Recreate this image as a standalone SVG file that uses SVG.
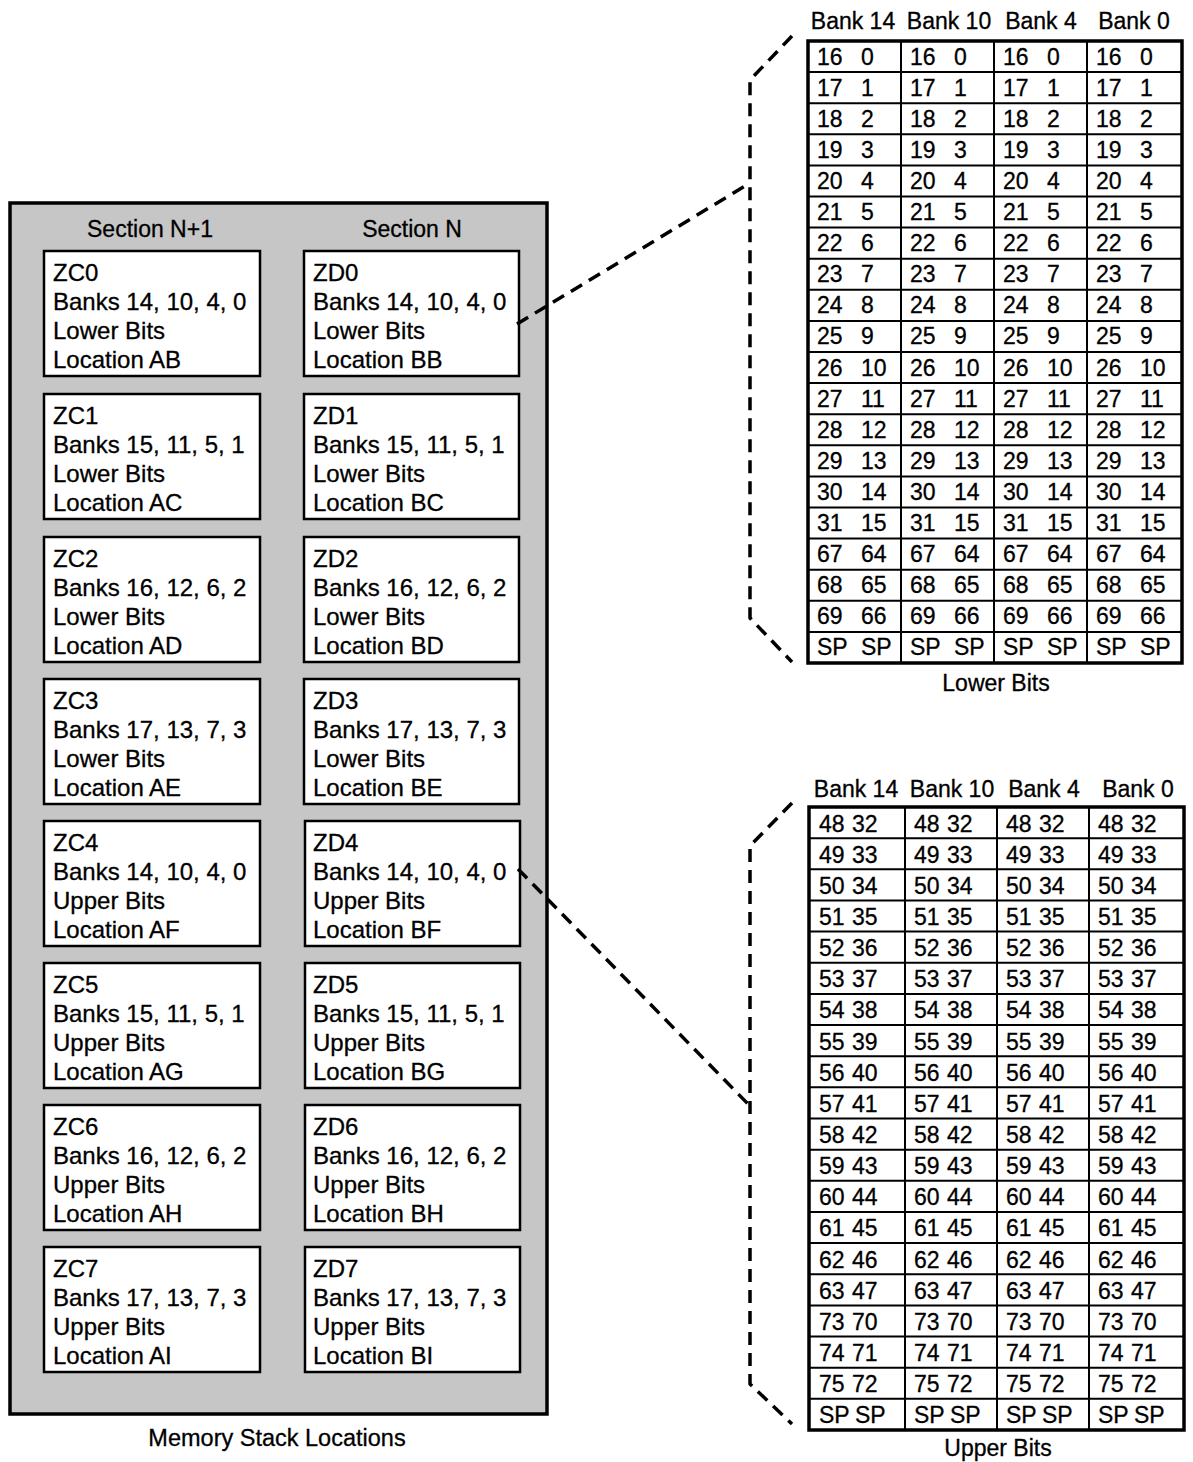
<svg xmlns="http://www.w3.org/2000/svg" width="1193" height="1462" viewBox="0 0 1193 1462">
<defs>
<style>
text{font-family:"Liberation Sans",Arial,Helvetica,sans-serif;fill:#000;stroke:#000;stroke-width:0.3}
.b{font-size:24px}
.t{font-size:23px}
.h{font-size:23px;text-anchor:middle}
.c{font-size:23.5px;text-anchor:middle}
.box{fill:#fff;stroke:#000;stroke-width:2.5}
.outer{fill:#fff;stroke:#000;stroke-width:3.5}
.grid{fill:none;stroke:#000;stroke-width:2}
.dash{fill:none;stroke:#000;stroke-width:3.5;stroke-dasharray:13 8;stroke-linejoin:round}
</style>
</defs>
<rect width="1193" height="1462" fill="#fff"/>

<g id="memory-stack">
<rect x="10" y="203" width="537" height="1211" fill="#c6c6c6" stroke="#000" stroke-width="3.5"/>
<text class="h" x="150" y="237">Section N+1</text>
<text class="h" x="412" y="237">Section N</text>

<g id="ZC0"><rect class="box" x="44" y="251" width="216" height="125"/>
<text class="b" x="53" y="281">ZC0</text><text class="b" x="53" y="310">Banks 14, 10, 4, 0</text><text class="b" x="53" y="339">Lower Bits</text><text class="b" x="53" y="368">Location AB</text></g>
<g id="ZD0"><rect class="box" x="304" y="251" width="215" height="125"/>
<text class="b" x="313" y="281">ZD0</text><text class="b" x="313" y="310">Banks 14, 10, 4, 0</text><text class="b" x="313" y="339">Lower Bits</text><text class="b" x="313" y="368">Location BB</text></g>

<g id="ZC1"><rect class="box" x="44" y="394" width="216" height="125"/>
<text class="b" x="53" y="424">ZC1</text><text class="b" x="53" y="453">Banks 15, 11, 5, 1</text><text class="b" x="53" y="482">Lower Bits</text><text class="b" x="53" y="511">Location AC</text></g>
<g id="ZD1"><rect class="box" x="304" y="394" width="215" height="125"/>
<text class="b" x="313" y="424">ZD1</text><text class="b" x="313" y="453">Banks 15, 11, 5, 1</text><text class="b" x="313" y="482">Lower Bits</text><text class="b" x="313" y="511">Location BC</text></g>

<g id="ZC2"><rect class="box" x="44" y="537" width="216" height="125"/>
<text class="b" x="53" y="567">ZC2</text><text class="b" x="53" y="596">Banks 16, 12, 6, 2</text><text class="b" x="53" y="625">Lower Bits</text><text class="b" x="53" y="654">Location AD</text></g>
<g id="ZD2"><rect class="box" x="304" y="537" width="215" height="125"/>
<text class="b" x="313" y="567">ZD2</text><text class="b" x="313" y="596">Banks 16, 12, 6, 2</text><text class="b" x="313" y="625">Lower Bits</text><text class="b" x="313" y="654">Location BD</text></g>

<g id="ZC3"><rect class="box" x="44" y="679" width="216" height="125"/>
<text class="b" x="53" y="709">ZC3</text><text class="b" x="53" y="738">Banks 17, 13, 7, 3</text><text class="b" x="53" y="767">Lower Bits</text><text class="b" x="53" y="796">Location AE</text></g>
<g id="ZD3"><rect class="box" x="304" y="679" width="215" height="125"/>
<text class="b" x="313" y="709">ZD3</text><text class="b" x="313" y="738">Banks 17, 13, 7, 3</text><text class="b" x="313" y="767">Lower Bits</text><text class="b" x="313" y="796">Location BE</text></g>

<g id="ZC4"><rect class="box" x="44" y="821" width="216" height="125"/>
<text class="b" x="53" y="851">ZC4</text><text class="b" x="53" y="880">Banks 14, 10, 4, 0</text><text class="b" x="53" y="909">Upper Bits</text><text class="b" x="53" y="938">Location AF</text></g>
<g id="ZD4"><rect class="box" x="305" y="821" width="215" height="125"/>
<text class="b" x="313" y="851">ZD4</text><text class="b" x="313" y="880">Banks 14, 10, 4, 0</text><text class="b" x="313" y="909">Upper Bits</text><text class="b" x="313" y="938">Location BF</text></g>

<g id="ZC5"><rect class="box" x="44" y="963" width="216" height="125"/>
<text class="b" x="53" y="993">ZC5</text><text class="b" x="53" y="1022">Banks 15, 11, 5, 1</text><text class="b" x="53" y="1051">Upper Bits</text><text class="b" x="53" y="1080">Location AG</text></g>
<g id="ZD5"><rect class="box" x="305" y="963" width="215" height="125"/>
<text class="b" x="313" y="993">ZD5</text><text class="b" x="313" y="1022">Banks 15, 11, 5, 1</text><text class="b" x="313" y="1051">Upper Bits</text><text class="b" x="313" y="1080">Location BG</text></g>

<g id="ZC6"><rect class="box" x="44" y="1105" width="216" height="125"/>
<text class="b" x="53" y="1135">ZC6</text><text class="b" x="53" y="1164">Banks 16, 12, 6, 2</text><text class="b" x="53" y="1193">Upper Bits</text><text class="b" x="53" y="1222">Location AH</text></g>
<g id="ZD6"><rect class="box" x="305" y="1105" width="215" height="125"/>
<text class="b" x="313" y="1135">ZD6</text><text class="b" x="313" y="1164">Banks 16, 12, 6, 2</text><text class="b" x="313" y="1193">Upper Bits</text><text class="b" x="313" y="1222">Location BH</text></g>

<g id="ZC7"><rect class="box" x="44" y="1247" width="216" height="125"/>
<text class="b" x="53" y="1277">ZC7</text><text class="b" x="53" y="1306">Banks 17, 13, 7, 3</text><text class="b" x="53" y="1335">Upper Bits</text><text class="b" x="53" y="1364">Location AI</text></g>
<g id="ZD7"><rect class="box" x="305" y="1247" width="215" height="125"/>
<text class="b" x="313" y="1277">ZD7</text><text class="b" x="313" y="1306">Banks 17, 13, 7, 3</text><text class="b" x="313" y="1335">Upper Bits</text><text class="b" x="313" y="1364">Location BI</text></g>
</g>
<text id="memory-caption" class="c" x="277" y="1446">Memory Stack Locations</text>

<g id="lower-bits-table">
<text class="h" x="853" y="29">Bank 14</text><text class="h" x="949" y="29">Bank 10</text><text class="h" x="1041" y="29">Bank 4</text><text class="h" x="1134" y="29">Bank 0</text>
<rect class="outer" x="808" y="41" width="374" height="622"/>
<path class="grid" d="M901,41V663M994,41V663M1087,41V663M808,72.1H1182M808,103.2H1182M808,134.3H1182M808,165.4H1182M808,196.5H1182M808,227.6H1182M808,258.7H1182M808,289.8H1182M808,320.9H1182M808,352H1182M808,383.1H1182M808,414.2H1182M808,445.3H1182M808,476.4H1182M808,507.5H1182M808,538.6H1182M808,569.7H1182M808,600.8H1182M808,631.9H1182"/>
<g class="t">
<text y="64.5"><tspan x="817">16</tspan><tspan x="861">0</tspan><tspan x="910">16</tspan><tspan x="954">0</tspan><tspan x="1003">16</tspan><tspan x="1047">0</tspan><tspan x="1096">16</tspan><tspan x="1140">0</tspan></text>
<text y="95.6"><tspan x="817">17</tspan><tspan x="861">1</tspan><tspan x="910">17</tspan><tspan x="954">1</tspan><tspan x="1003">17</tspan><tspan x="1047">1</tspan><tspan x="1096">17</tspan><tspan x="1140">1</tspan></text>
<text y="126.7"><tspan x="817">18</tspan><tspan x="861">2</tspan><tspan x="910">18</tspan><tspan x="954">2</tspan><tspan x="1003">18</tspan><tspan x="1047">2</tspan><tspan x="1096">18</tspan><tspan x="1140">2</tspan></text>
<text y="157.8"><tspan x="817">19</tspan><tspan x="861">3</tspan><tspan x="910">19</tspan><tspan x="954">3</tspan><tspan x="1003">19</tspan><tspan x="1047">3</tspan><tspan x="1096">19</tspan><tspan x="1140">3</tspan></text>
<text y="188.9"><tspan x="817">20</tspan><tspan x="861">4</tspan><tspan x="910">20</tspan><tspan x="954">4</tspan><tspan x="1003">20</tspan><tspan x="1047">4</tspan><tspan x="1096">20</tspan><tspan x="1140">4</tspan></text>
<text y="220"><tspan x="817">21</tspan><tspan x="861">5</tspan><tspan x="910">21</tspan><tspan x="954">5</tspan><tspan x="1003">21</tspan><tspan x="1047">5</tspan><tspan x="1096">21</tspan><tspan x="1140">5</tspan></text>
<text y="251.1"><tspan x="817">22</tspan><tspan x="861">6</tspan><tspan x="910">22</tspan><tspan x="954">6</tspan><tspan x="1003">22</tspan><tspan x="1047">6</tspan><tspan x="1096">22</tspan><tspan x="1140">6</tspan></text>
<text y="282.2"><tspan x="817">23</tspan><tspan x="861">7</tspan><tspan x="910">23</tspan><tspan x="954">7</tspan><tspan x="1003">23</tspan><tspan x="1047">7</tspan><tspan x="1096">23</tspan><tspan x="1140">7</tspan></text>
<text y="313.3"><tspan x="817">24</tspan><tspan x="861">8</tspan><tspan x="910">24</tspan><tspan x="954">8</tspan><tspan x="1003">24</tspan><tspan x="1047">8</tspan><tspan x="1096">24</tspan><tspan x="1140">8</tspan></text>
<text y="344.4"><tspan x="817">25</tspan><tspan x="861">9</tspan><tspan x="910">25</tspan><tspan x="954">9</tspan><tspan x="1003">25</tspan><tspan x="1047">9</tspan><tspan x="1096">25</tspan><tspan x="1140">9</tspan></text>
<text y="375.5"><tspan x="817">26</tspan><tspan x="861">10</tspan><tspan x="910">26</tspan><tspan x="954">10</tspan><tspan x="1003">26</tspan><tspan x="1047">10</tspan><tspan x="1096">26</tspan><tspan x="1140">10</tspan></text>
<text y="406.6"><tspan x="817">27</tspan><tspan x="861">11</tspan><tspan x="910">27</tspan><tspan x="954">11</tspan><tspan x="1003">27</tspan><tspan x="1047">11</tspan><tspan x="1096">27</tspan><tspan x="1140">11</tspan></text>
<text y="437.7"><tspan x="817">28</tspan><tspan x="861">12</tspan><tspan x="910">28</tspan><tspan x="954">12</tspan><tspan x="1003">28</tspan><tspan x="1047">12</tspan><tspan x="1096">28</tspan><tspan x="1140">12</tspan></text>
<text y="468.8"><tspan x="817">29</tspan><tspan x="861">13</tspan><tspan x="910">29</tspan><tspan x="954">13</tspan><tspan x="1003">29</tspan><tspan x="1047">13</tspan><tspan x="1096">29</tspan><tspan x="1140">13</tspan></text>
<text y="499.9"><tspan x="817">30</tspan><tspan x="861">14</tspan><tspan x="910">30</tspan><tspan x="954">14</tspan><tspan x="1003">30</tspan><tspan x="1047">14</tspan><tspan x="1096">30</tspan><tspan x="1140">14</tspan></text>
<text y="531"><tspan x="817">31</tspan><tspan x="861">15</tspan><tspan x="910">31</tspan><tspan x="954">15</tspan><tspan x="1003">31</tspan><tspan x="1047">15</tspan><tspan x="1096">31</tspan><tspan x="1140">15</tspan></text>
<text y="562.1"><tspan x="817">67</tspan><tspan x="861">64</tspan><tspan x="910">67</tspan><tspan x="954">64</tspan><tspan x="1003">67</tspan><tspan x="1047">64</tspan><tspan x="1096">67</tspan><tspan x="1140">64</tspan></text>
<text y="593.2"><tspan x="817">68</tspan><tspan x="861">65</tspan><tspan x="910">68</tspan><tspan x="954">65</tspan><tspan x="1003">68</tspan><tspan x="1047">65</tspan><tspan x="1096">68</tspan><tspan x="1140">65</tspan></text>
<text y="624.3"><tspan x="817">69</tspan><tspan x="861">66</tspan><tspan x="910">69</tspan><tspan x="954">66</tspan><tspan x="1003">69</tspan><tspan x="1047">66</tspan><tspan x="1096">69</tspan><tspan x="1140">66</tspan></text>
<text y="655.4"><tspan x="817">SP</tspan><tspan x="861">SP</tspan><tspan x="910">SP</tspan><tspan x="954">SP</tspan><tspan x="1003">SP</tspan><tspan x="1047">SP</tspan><tspan x="1096">SP</tspan><tspan x="1140">SP</tspan></text>
</g>
<text class="h" x="996" y="691">Lower Bits</text>
</g>

<g id="upper-bits-table">
<text class="h" x="856" y="797">Bank 14</text><text class="h" x="952" y="797">Bank 10</text><text class="h" x="1044" y="797">Bank 4</text><text class="h" x="1138" y="797">Bank 0</text>
<rect class="outer" x="809" y="807" width="375" height="623"/>
<path class="grid" d="M905,807V1430M997,807V1430M1089,807V1430M809,838.15H1184M809,869.3H1184M809,900.45H1184M809,931.6H1184M809,962.75H1184M809,993.9H1184M809,1025.05H1184M809,1056.2H1184M809,1087.35H1184M809,1118.5H1184M809,1149.65H1184M809,1180.8H1184M809,1211.95H1184M809,1243.1H1184M809,1274.25H1184M809,1305.4H1184M809,1336.55H1184M809,1367.7H1184M809,1398.85H1184"/>
<g class="t">
<text y="831.5"><tspan x="819">48</tspan><tspan x="852">32</tspan><tspan x="914">48</tspan><tspan x="947">32</tspan><tspan x="1006">48</tspan><tspan x="1039">32</tspan><tspan x="1098">48</tspan><tspan x="1131">32</tspan></text>
<text y="862.65"><tspan x="819">49</tspan><tspan x="852">33</tspan><tspan x="914">49</tspan><tspan x="947">33</tspan><tspan x="1006">49</tspan><tspan x="1039">33</tspan><tspan x="1098">49</tspan><tspan x="1131">33</tspan></text>
<text y="893.8"><tspan x="819">50</tspan><tspan x="852">34</tspan><tspan x="914">50</tspan><tspan x="947">34</tspan><tspan x="1006">50</tspan><tspan x="1039">34</tspan><tspan x="1098">50</tspan><tspan x="1131">34</tspan></text>
<text y="924.95"><tspan x="819">51</tspan><tspan x="852">35</tspan><tspan x="914">51</tspan><tspan x="947">35</tspan><tspan x="1006">51</tspan><tspan x="1039">35</tspan><tspan x="1098">51</tspan><tspan x="1131">35</tspan></text>
<text y="956.1"><tspan x="819">52</tspan><tspan x="852">36</tspan><tspan x="914">52</tspan><tspan x="947">36</tspan><tspan x="1006">52</tspan><tspan x="1039">36</tspan><tspan x="1098">52</tspan><tspan x="1131">36</tspan></text>
<text y="987.25"><tspan x="819">53</tspan><tspan x="852">37</tspan><tspan x="914">53</tspan><tspan x="947">37</tspan><tspan x="1006">53</tspan><tspan x="1039">37</tspan><tspan x="1098">53</tspan><tspan x="1131">37</tspan></text>
<text y="1018.4"><tspan x="819">54</tspan><tspan x="852">38</tspan><tspan x="914">54</tspan><tspan x="947">38</tspan><tspan x="1006">54</tspan><tspan x="1039">38</tspan><tspan x="1098">54</tspan><tspan x="1131">38</tspan></text>
<text y="1049.55"><tspan x="819">55</tspan><tspan x="852">39</tspan><tspan x="914">55</tspan><tspan x="947">39</tspan><tspan x="1006">55</tspan><tspan x="1039">39</tspan><tspan x="1098">55</tspan><tspan x="1131">39</tspan></text>
<text y="1080.7"><tspan x="819">56</tspan><tspan x="852">40</tspan><tspan x="914">56</tspan><tspan x="947">40</tspan><tspan x="1006">56</tspan><tspan x="1039">40</tspan><tspan x="1098">56</tspan><tspan x="1131">40</tspan></text>
<text y="1111.85"><tspan x="819">57</tspan><tspan x="852">41</tspan><tspan x="914">57</tspan><tspan x="947">41</tspan><tspan x="1006">57</tspan><tspan x="1039">41</tspan><tspan x="1098">57</tspan><tspan x="1131">41</tspan></text>
<text y="1143"><tspan x="819">58</tspan><tspan x="852">42</tspan><tspan x="914">58</tspan><tspan x="947">42</tspan><tspan x="1006">58</tspan><tspan x="1039">42</tspan><tspan x="1098">58</tspan><tspan x="1131">42</tspan></text>
<text y="1174.15"><tspan x="819">59</tspan><tspan x="852">43</tspan><tspan x="914">59</tspan><tspan x="947">43</tspan><tspan x="1006">59</tspan><tspan x="1039">43</tspan><tspan x="1098">59</tspan><tspan x="1131">43</tspan></text>
<text y="1205.3"><tspan x="819">60</tspan><tspan x="852">44</tspan><tspan x="914">60</tspan><tspan x="947">44</tspan><tspan x="1006">60</tspan><tspan x="1039">44</tspan><tspan x="1098">60</tspan><tspan x="1131">44</tspan></text>
<text y="1236.45"><tspan x="819">61</tspan><tspan x="852">45</tspan><tspan x="914">61</tspan><tspan x="947">45</tspan><tspan x="1006">61</tspan><tspan x="1039">45</tspan><tspan x="1098">61</tspan><tspan x="1131">45</tspan></text>
<text y="1267.6"><tspan x="819">62</tspan><tspan x="852">46</tspan><tspan x="914">62</tspan><tspan x="947">46</tspan><tspan x="1006">62</tspan><tspan x="1039">46</tspan><tspan x="1098">62</tspan><tspan x="1131">46</tspan></text>
<text y="1298.75"><tspan x="819">63</tspan><tspan x="852">47</tspan><tspan x="914">63</tspan><tspan x="947">47</tspan><tspan x="1006">63</tspan><tspan x="1039">47</tspan><tspan x="1098">63</tspan><tspan x="1131">47</tspan></text>
<text y="1329.9"><tspan x="819">73</tspan><tspan x="852">70</tspan><tspan x="914">73</tspan><tspan x="947">70</tspan><tspan x="1006">73</tspan><tspan x="1039">70</tspan><tspan x="1098">73</tspan><tspan x="1131">70</tspan></text>
<text y="1361.05"><tspan x="819">74</tspan><tspan x="852">71</tspan><tspan x="914">74</tspan><tspan x="947">71</tspan><tspan x="1006">74</tspan><tspan x="1039">71</tspan><tspan x="1098">74</tspan><tspan x="1131">71</tspan></text>
<text y="1392.2"><tspan x="819">75</tspan><tspan x="852">72</tspan><tspan x="914">75</tspan><tspan x="947">72</tspan><tspan x="1006">75</tspan><tspan x="1039">72</tspan><tspan x="1098">75</tspan><tspan x="1131">72</tspan></text>
<text y="1423.35"><tspan x="819">SP</tspan><tspan x="855">SP</tspan><tspan x="914">SP</tspan><tspan x="950">SP</tspan><tspan x="1006">SP</tspan><tspan x="1042">SP</tspan><tspan x="1098">SP</tspan><tspan x="1134">SP</tspan></text>
</g>
<text class="h" x="998" y="1456">Upper Bits</text>
</g>

<g id="connectors">
<path class="dash" d="M517,324L745,186"/>
<path class="dash" d="M792,36L750,80V618L792,662"/>
<path class="dash" d="M518,869L750,1106"/>
<path class="dash" d="M792,803L750,846V1384L792,1424"/>
</g>
</svg>
